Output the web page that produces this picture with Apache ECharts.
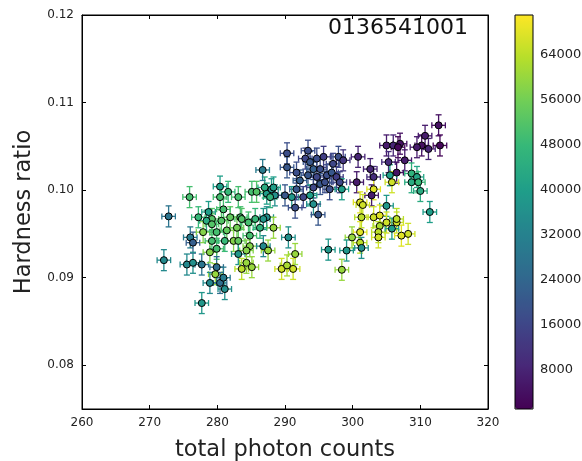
<!DOCTYPE html>
<html>
<head>
<meta charset="utf-8">
<script src="https://cdn.jsdelivr.net/npm/echarts@6/dist/echarts.min.js"></script>
<style>
  html, body { margin: 0; padding: 0; background: #fff; }
  #chart { width: 582px; height: 461px; }
</style>
</head>
<body>
<div id="chart"></div>
<script>
// Observation 0136541001: total photon counts vs hardness ratio, colored by time (s)
const counts = [
  272.8, 272.1, 275.9, 276.0, 276.4, 275.5, 276.4, 277.7, 277.7, 277.2,
  278.7, 279.2, 280.4, 280.4, 281.6, 283.1, 285.1, 285.8, 287.3, 288.0,
  288.5, 287.0, 288.3, 287.8, 286.7, 280.6, 281.9, 283.4, 285.6, 287.3,
  286.8, 283.6, 280.9, 278.4, 288.3, 277.9, 279.2, 279.9, 281.4, 282.9,
  284.6, 286.3, 279.2, 281.1, 282.4, 283.1, 284.8, 284.8, 286.8, 287.5,
  278.9, 279.9, 283.1, 284.3, 290.5, 291.5, 279.9, 279.7, 283.6, 284.3,
  285.1, 289.5, 290.3, 291.2, 278.9, 280.4, 281.1, 280.9,
  290.3, 293.4, 290.3, 291.7, 293.0, 293.7, 294.7, 295.7, 297.1, 297.9,
  294.2, 295.2, 293.4, 294.7, 296.2, 296.9, 297.6, 298.1, 295.2, 295.9,
  292.2, 291.7, 294.2, 296.6, 298.4, 300.6, 290.0, 291.0, 293.7, 292.7,
  291.5, 294.2, 294.9,
  312.7, 310.7, 310.2, 311.2, 312.9, 309.5, 307.0, 305.0, 306.0, 306.7,
  307.7, 305.3, 302.6, 300.8, 298.6, 306.5, 308.7, 309.5, 308.7, 309.7,
  310.0, 305.5, 305.8, 303.1, 303.1, 302.8, 311.4,
  301.1, 301.5, 305.0, 301.3, 303.1, 304.0, 305.0, 306.5, 306.5, 304.0,
  301.1, 303.8, 305.8, 307.2, 308.2, 299.9, 301.1, 303.8, 301.3, 296.4,
  299.1, 298.4
];
const hardness = [
  0.0970, 0.0920, 0.0992, 0.0946, 0.0940, 0.0915, 0.0917, 0.0915, 0.0871, 0.0969,
  0.0975, 0.0967, 0.1004, 0.0992, 0.0998, 0.0992, 0.0998, 0.0998, 0.0996, 0.1001,
  0.0994, 0.1003, 0.1003, 0.0992, 0.1023, 0.0965, 0.0969, 0.0969, 0.0967, 0.0969,
  0.0967, 0.0967, 0.0978, 0.0965, 0.0957, 0.0952, 0.0961, 0.0952, 0.0954, 0.0957,
  0.0963, 0.0957, 0.0942, 0.0942, 0.0942, 0.0942, 0.0948, 0.0936, 0.0936, 0.0931,
  0.0929, 0.0933, 0.0927, 0.0931, 0.0946, 0.0927, 0.0912, 0.0904, 0.0910, 0.0917,
  0.0912, 0.0910, 0.0914, 0.0910, 0.0894, 0.0894, 0.0887, 0.0900,
  0.1042, 0.1045, 0.1026, 0.1020, 0.1036, 0.1032, 0.1036, 0.1038, 0.1030, 0.1038,
  0.1024, 0.1024, 0.1017, 0.1015, 0.1017, 0.1020, 0.1015, 0.1009, 0.1007, 0.1009,
  0.1011, 0.1001, 0.1003, 0.1001, 0.1001, 0.1009, 0.0994, 0.0992, 0.0994, 0.0992,
  0.0980, 0.0984, 0.0972,
  0.1074, 0.1062, 0.1051, 0.1047, 0.1051, 0.1049, 0.1053, 0.1051, 0.1051, 0.1049,
  0.1034, 0.1032, 0.1024, 0.1038, 0.1034, 0.1020, 0.1019, 0.1015, 0.1009, 0.1009,
  0.0999, 0.1017, 0.1009, 0.1015, 0.1001, 0.0994, 0.0975,
  0.0986, 0.0983, 0.0982, 0.0969, 0.0969, 0.0971, 0.0963, 0.0963, 0.0967, 0.0959,
  0.0952, 0.0952, 0.0956, 0.0948, 0.0950, 0.0946, 0.0940, 0.0946, 0.0934, 0.0932,
  0.0931, 0.0909
];
const time = [
  28000, 34000, 50000, 30000, 22000, 34000, 36000, 28000, 38000, 48000,
  40000, 52000, 40000, 50000, 48000, 50000, 50000, 52000, 40000, 38000,
  36000, 44000, 40000, 46000, 30000, 52000, 54000, 50000, 48000, 36000,
  38000, 52000, 50000, 44000, 60000, 58000, 52000, 50000, 54000, 56000,
  50000, 46000, 50000, 48000, 58000, 54000, 50000, 58000, 34000, 60000,
  58000, 50000, 38000, 58000, 36000, 60000, 26000, 60000, 64000, 60000,
  60000, 66000, 62000, 66000, 34000, 26000, 36000, 30000,
  18000, 18000, 20000, 18000, 16000, 20000, 18000, 14000, 16000, 18000,
  22000, 18000, 20000, 16000, 18000, 20000, 14000, 16000, 20000, 18000,
  22000, 20000, 16000, 18000, 40000, 6000, 20000, 38000, 40000, 16000,
  18000, 36000, 20000,
  4000, 6000, 4000, 8000, 2000, 6000, 4000, 6000, 8000, 2000,
  6000, 10000, 8000, 8000, 12000, 4000, 46000, 42000, 44000, 48000,
  44000, 40000, 66000, 10000, 68000, 6000, 40000,
  68000, 66000, 38000, 64000, 66000, 68000, 66000, 66000, 64000, 62000,
  68000, 64000, 40000, 68000, 66000, 60000, 64000, 66000, 36000, 38000,
  38000, 60000
];
// 1-sigma uncertainties
const countsErr = 1.0;
const hardnessErr = 0.0012;

const yTicks = [0.08, 0.09, 0.10, 0.11, 0.12];
const yTickLabels = ['0.08', '0.09', '0.10', '0.11', '0.12'];
const timeTicks = [8000, 16000, 24000, 32000, 40000, 48000, 56000, 64000];
const timeRange = [900, 71100];
const obsId = '0136541001';

const viridis = ['#440154', '#482878', '#3e4989', '#31688e', '#26828e',
                 '#1f9e89', '#35b779', '#6ece58', '#b5de2b', '#fde725'];

const points = counts.map((c, i) => [c, hardness[i], time[i]]);

const chart = echarts.init(document.getElementById('chart'), null, { renderer: 'canvas' });

const font = 'DejaVu Sans';
const tickLabel = { color: '#222', fontSize: 12, fontFamily: font };

// colour bar geometry
const cbLeft = 515, cbTop = 15, cbWidth = 18, cbHeight = 394;
// the label axis starts at 0, so it reaches a little below the bar
const cbAxisHeight = cbHeight * timeRange[1] / (timeRange[1] - timeRange[0]);

function errorBars(params, api) {
  const x = api.value(0), y = api.value(1);
  const l = api.coord([x - countsErr, y]);
  const r = api.coord([x + countsErr, y]);
  const t = api.coord([x, y + hardnessErr]);
  const b = api.coord([x, y - hardnessErr]);
  const color = api.visual('color');
  const cap = 3;
  const st = { stroke: color, lineWidth: 1.3 };
  const line = (x1, y1, x2, y2) => ({ type: 'line', shape: { x1, y1, x2, y2 }, style: st });
  return {
    type: 'group',
    children: [
      line(l[0], l[1], r[0], r[1]),
      line(t[0], t[1], b[0], b[1]),
      line(l[0], l[1] - cap, l[0], l[1] + cap),
      line(r[0], r[1] - cap, r[0], r[1] + cap),
      line(t[0] - cap, t[1], t[0] + cap, t[1]),
      line(b[0] - cap, b[1], b[0] + cap, b[1])
    ]
  };
}

const axisLine = { show: true, lineStyle: { color: '#000', width: 1 } };
const inTick = { inside: true, length: 4, lineStyle: { color: '#000' } };

function yLabel(v) {
  const n = Number(v);
  const i = yTicks.findIndex(t => Math.abs(t - n) < 1e-9);
  return i < 0 ? '' : yTickLabels[i];
}
function timeLabel(v) {
  const n = Number(v);
  return timeTicks.indexOf(n) < 0 ? '' : String(n);
}

chart.setOption({
  animation: false,
  backgroundColor: '#fff',
  grid: [
    { left: 82, top: 15, right: 94, bottom: 52, show: true, borderColor: '#000', borderWidth: 1,
      outerBoundsMode: 'none', containLabel: false },
    { left: cbLeft, top: cbTop, width: cbWidth, height: cbAxisHeight, show: false,
      outerBoundsMode: 'none', containLabel: false },
    { left: cbLeft, top: cbTop, width: cbWidth, height: cbHeight, show: true,
      borderColor: '#000', borderWidth: 1, backgroundColor: 'transparent', z: 10,
      outerBoundsMode: 'none', containLabel: false }
  ],
  xAxis: [
    {
      gridIndex: 0, type: 'value', min: 260, max: 320, interval: 10,
      name: 'total photon counts', nameLocation: 'middle', nameGap: 30,
      nameTextStyle: { fontSize: 22.5, fontFamily: font, color: '#222' },
      axisLine, axisTick: inTick,
      axisLabel: Object.assign({ margin: 8 }, tickLabel),
      splitLine: { show: false }
    },
    {
      gridIndex: 0, type: 'value', position: 'top', min: 260, max: 320, interval: 10,
      axisLine, axisTick: inTick,
      axisLabel: { show: false }, splitLine: { show: false }
    },
    { gridIndex: 1, type: 'value', min: 0, max: 1, show: false },
    { gridIndex: 2, type: 'value', min: 0, max: 1, show: false }
  ],
  yAxis: [
    {
      gridIndex: 0, type: 'value', min: 0.075, max: 0.12, interval: 0.005,
      name: 'Hardness ratio', nameLocation: 'middle', nameGap: 46, nameRotate: 90,
      nameTextStyle: { fontSize: 22.5, fontFamily: font, color: '#222' },
      axisLine,
      axisTick: Object.assign({ customValues: yTicks }, inTick),
      axisLabel: Object.assign({ formatter: yLabel }, tickLabel),
      splitLine: { show: false }
    },
    {
      gridIndex: 0, type: 'value', position: 'right', min: 0.075, max: 0.12, interval: 0.005,
      axisLine,
      axisTick: Object.assign({ customValues: yTicks }, inTick),
      axisLabel: { show: false }, splitLine: { show: false }
    },
    {
      gridIndex: 1, type: 'value', position: 'right', min: 0, max: timeRange[1], interval: 8000,
      axisLine: { show: false },
      axisTick: { show: true, length: 3, customValues: timeTicks, lineStyle: { color: '#000' } },
      axisLabel: Object.assign({ margin: 7, formatter: timeLabel }, tickLabel, { fontSize: 13 }),
      splitLine: { show: false }
    },
    { gridIndex: 2, type: 'value', min: 0, max: 1, show: false }
  ],
  visualMap: {
    type: 'continuous',
    min: timeRange[0], max: timeRange[1],
    dimension: 2,
    seriesIndex: [0, 1],
    inRange: { color: viridis },
    orient: 'vertical',
    left: cbLeft, top: cbTop,
    itemWidth: cbWidth, itemHeight: cbHeight,
    padding: 0,
    text: null,
    calculable: false,
    showLabel: false,
    hoverLink: false
  },
  graphic: [
    {
      type: 'text', right: 582 - 468, top: 17,
      style: { text: obsId, fontSize: 22, fontFamily: font, fill: '#111', textAlign: 'right' },
      z: 20
    }
  ],
  series: [
    {
      type: 'custom', xAxisIndex: 0, yAxisIndex: 0,
      renderItem: errorBars,
      data: points,
      encode: { x: 0, y: 1 },
      z: 2
    },
    {
      type: 'scatter', xAxisIndex: 0, yAxisIndex: 0,
      data: points,
      symbol: 'circle', symbolSize: 7,
      itemStyle: { borderColor: '#000', borderWidth: 1, opacity: 1 },
      z: 3
    }
  ]
});
</script>
</body>
</html>
